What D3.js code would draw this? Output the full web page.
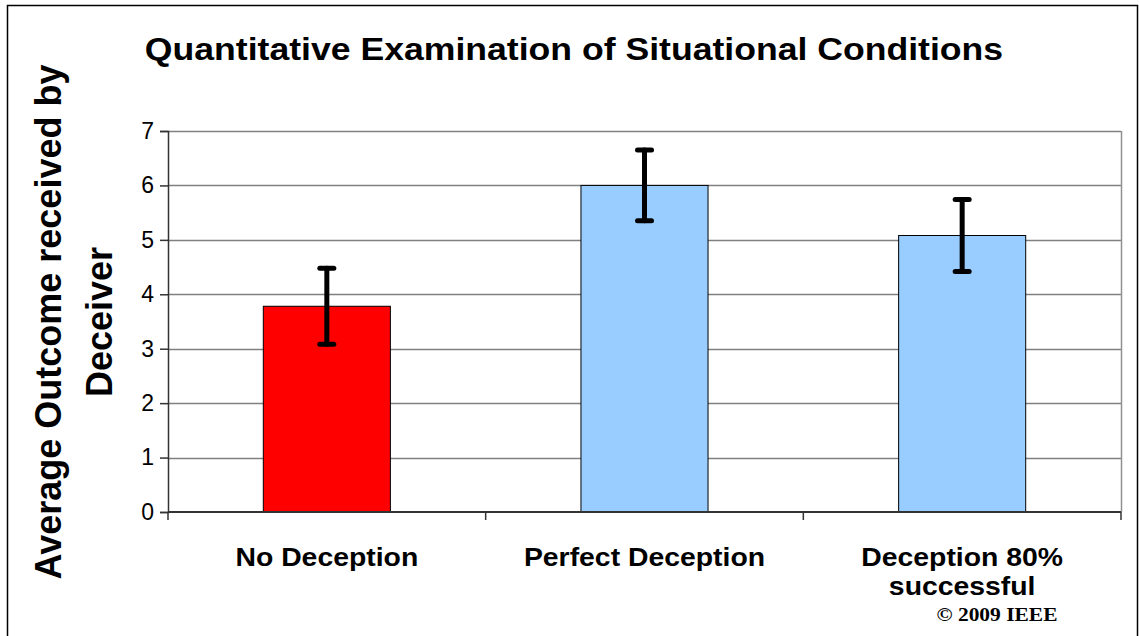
<!DOCTYPE html>
<html>
<head>
<meta charset="utf-8">
<script src="https://cdn.jsdelivr.net/npm/d3@7"></script>
<style>
  body { margin: 0; background: #fff; }
  svg { display: block; font-family: Arial, "Liberation Sans", sans-serif; }
</style>
</head>
<body>
<svg id="chart" width="1139" height="636"></svg>
<script>
// data
const categories = ['No Deception', 'Perfect Deception', 'Deception 80% successful'];
const means = [3.78, 6.0, 5.08];
const errors = [0.70, 0.65, 0.66];
const barColors = ['#ff0000', '#99ccff', '#99ccff'];
const yTicks = [0, 1, 2, 3, 4, 5, 6, 7];

const svg = d3.select('#chart');
const margin = {left: 168, top: 131, right: 18, bottom: 124};
const width = 1139, height = 636;

// the original picture is a bit wider than tall, so text gets stretched sideways
function stretch(sel, k) {
  sel.each(function () {
    let w = this.getComputedTextLength();
    d3.select(this).attr('textLength', w * k).attr('lengthAdjust', 'spacingAndGlyphs');
  });
}

// outer frame
svg.append('rect')
  .attr('x', 7.5).attr('y', 5.5)
  .attr('width', 1130).attr('height', 640)
  .attr('fill', 'none').attr('stroke', '#000').attr('stroke-width', 1.5);

const x = d3.scaleBand()
  .domain(categories)
  .range([margin.left, width - margin.right])
  .paddingInner(0.6).paddingOuter(0.3);
const xEdge = d3.scaleLinear()
  .domain([0, categories.length])
  .range([margin.left, width - margin.right]);
const y = d3.scaleLinear()
  .domain([0, 7])
  .range([height - margin.bottom, margin.top]);

// grid lines
svg.append('g').selectAll('line')
  .data(yTicks.slice(1))
  .join('line')
  .attr('x1', margin.left).attr('x2', width - margin.right)
  .attr('y1', d => Math.round(y(d)) + 0.5).attr('y2', d => Math.round(y(d)) + 0.5)
  .attr('stroke', '#808080').attr('stroke-width', 1.5);

// right border of plot area
svg.append('line')
  .attr('x1', width - margin.right + 0.5).attr('x2', width - margin.right + 0.5)
  .attr('y1', y(7)).attr('y2', y(0))
  .attr('stroke', '#909090').attr('stroke-width', 1.5);

// bars
svg.append('g').selectAll('rect')
  .data(categories)
  .join('rect')
  .attr('x', d => x(d))
  .attr('y', (d, i) => y(means[i]))
  .attr('width', x.bandwidth())
  .attr('height', (d, i) => y(0) - y(means[i]))
  .attr('fill', (d, i) => barColors[i])
  .attr('stroke', '#000').attr('stroke-width', 1);

// y axis
const yAxis = svg.append('g')
  .attr('transform', `translate(${margin.left},0)`)
  .call(d3.axisLeft(y).tickValues(yTicks).tickSize(8).tickPadding(6).tickFormat(d3.format('d')));
yAxis.select('.domain').attr('stroke', '#333').attr('stroke-width', 1.5);
yAxis.selectAll('.tick line').attr('stroke', '#333').attr('stroke-width', 1.5);
yAxis.selectAll('.tick text').attr('font-size', 23).attr('fill', '#000')
  .attr('font-family', 'Arial, "Liberation Sans", sans-serif');

// x axis baseline and category ticks
svg.append('line')
  .attr('x1', margin.left).attr('x2', width - margin.right)
  .attr('y1', y(0)).attr('y2', y(0))
  .attr('stroke', '#333').attr('stroke-width', 2);
svg.append('g').selectAll('line')
  .data(d3.range(categories.length + 1))
  .join('line')
  .attr('x1', d => xEdge(d)).attr('x2', d => xEdge(d))
  .attr('y1', y(0)).attr('y2', y(0) + 8)
  .attr('stroke', '#333').attr('stroke-width', 1.5);

// error bars
const eb = svg.append('g').attr('stroke', '#000').attr('stroke-width', 5).attr('stroke-linecap', 'round');
categories.forEach(function (c, i) {
  let cx = x(c) + x.bandwidth() / 2;
  let top = y(means[i] + errors[i]), bot = y(means[i] - errors[i]);
  eb.append('line').attr('x1', cx).attr('x2', cx).attr('y1', top).attr('y2', bot);
  eb.append('line').attr('x1', cx - 7).attr('x2', cx + 7).attr('y1', top).attr('y2', top);
  eb.append('line').attr('x1', cx - 7).attr('x2', cx + 7).attr('y1', bot).attr('y2', bot);
});

// category labels
const catLines = [['No Deception'], ['Perfect Deception'], ['Deception 80%', 'successful']];
categories.forEach(function (c, i) {
  catLines[i].forEach(function (s, j) {
    svg.append('text')
      .attr('class', 'cat')
      .attr('x', x(c) + x.bandwidth() / 2)
      .attr('y', 566 + j * 29)
      .attr('text-anchor', 'middle')
      .attr('font-size', 26.5).attr('font-weight', 'bold')
      .text(s);
  });
});
stretch(svg.selectAll('.cat'), 1.07);

// title
svg.append('text')
  .attr('x', 574).attr('y', 60)
  .attr('text-anchor', 'middle')
  .attr('font-size', 31.5).attr('font-weight', 'bold')
  .text('Quantitative Examination of Situational Conditions')
  .call(stretch, 1.13);

// y label
['Average Outcome received by', 'Deceiver'].forEach(function (s, j) {
  svg.append('text')
    .attr('transform', `translate(${61 + j * 51},322) rotate(-90)`)
    .attr('text-anchor', 'middle')
    .attr('font-size', 36).attr('font-weight', 'bold')
    .text(s);
});

// copyright
svg.append('text')
  .attr('x', 997).attr('y', 621)
  .attr('text-anchor', 'middle')
  .attr('font-family', '"Liberation Serif", "Times New Roman", serif')
  .attr('font-size', 19.5).attr('font-weight', 'bold')
  .text('© 2009 IEEE')
  .call(stretch, 1.1);
</script>
</body>
</html>
